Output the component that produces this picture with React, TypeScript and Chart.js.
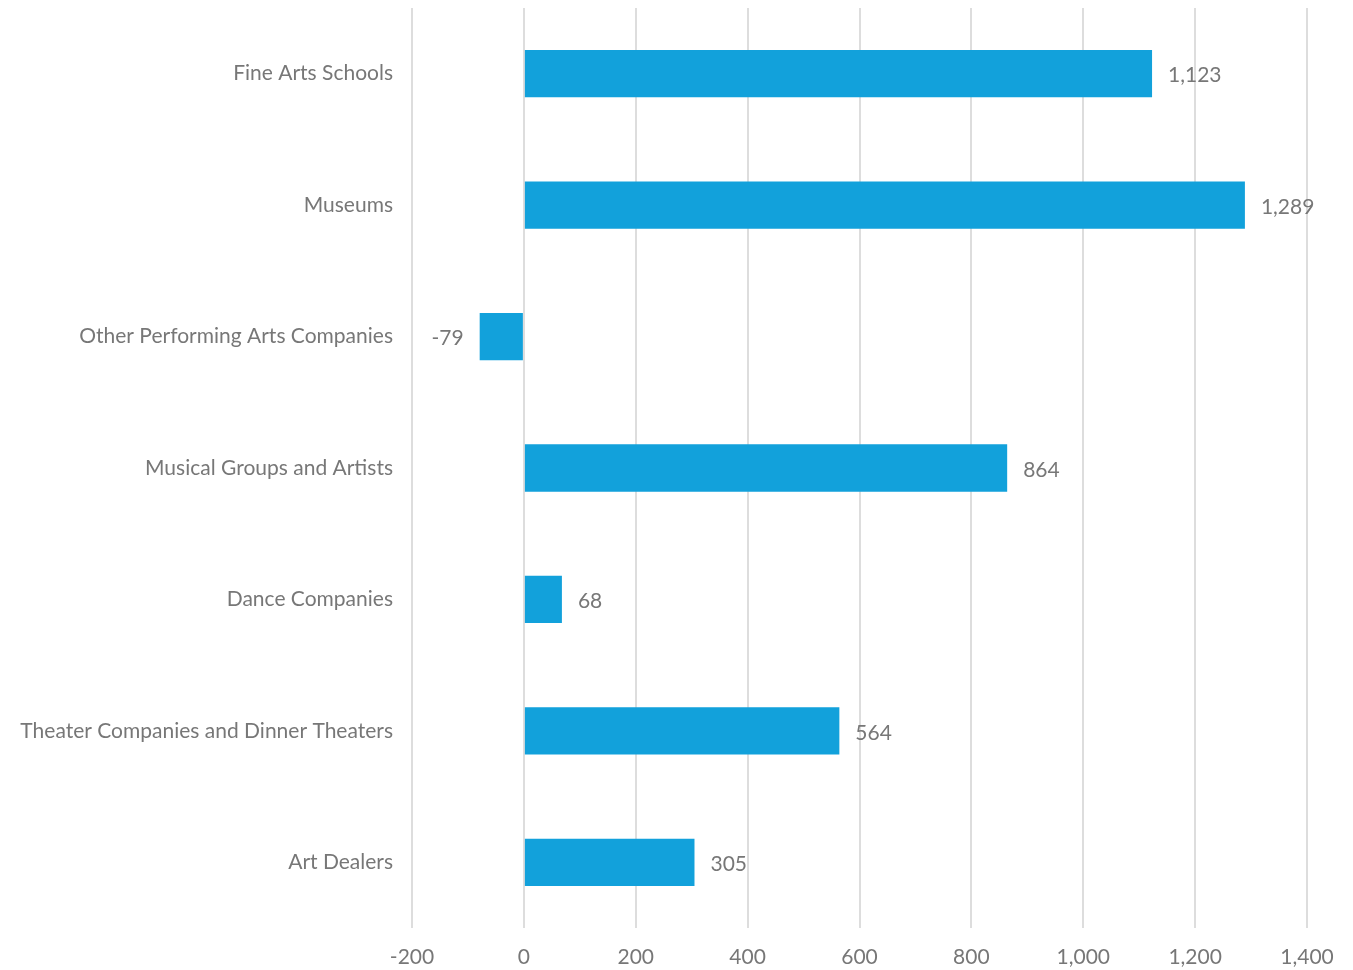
import React, { useEffect, useRef } from "react";
import { Chart, registerables } from "chart.js";

Chart.register(...registerables);

const categories = [
  "Fine Arts Schools",
  "Museums",
  "Other Performing Arts Companies",
  "Musical Groups and Artists",
  "Dance Companies",
  "Theater Companies and Dinner Theaters",
  "Art Dealers",
];
const values = [1123, 1289, -79, 864, 68, 564, 305];
const xMin = -200;
const xMax = 1400;
const xStep = 200;

const FONT = "Lato";
const FSIZE = 21;
const TEXT = "#777777";

const labelPlugin = {
  id: "barLabels",
  afterDatasetsDraw(chart: any) {
    const ctx = chart.ctx;
    const meta = chart.getDatasetMeta(0);
    ctx.save();
    ctx.font = `${FSIZE}px ${FONT}`;
    ctx.fillStyle = TEXT;
    ctx.textBaseline = "middle";
    meta.data.forEach((bar: any, i: number) => {
      const v = values[i];
      const txt = v.toLocaleString("en-US");
      if (v >= 0) {
        ctx.textAlign = "left";
        ctx.fillText(txt, bar.x + 16, bar.y + 2);
      } else {
        ctx.textAlign = "right";
        ctx.fillText(txt, bar.x - 16, bar.y + 2);
      }
    });
    ctx.restore();
  },
};

export default function App() {
  const ref = useRef<HTMLCanvasElement>(null);
  useEffect(() => {
    if (!ref.current) return;
    const chart = new Chart(ref.current, {
      type: "bar",
      data: {
        labels: categories,
        datasets: [
          {
            data: values,
            backgroundColor: "#12a1db",
            barPercentage: 0.36,
            categoryPercentage: 1,
          },
        ],
      },
      options: {
        indexAxis: "y",
        animation: false,
        responsive: false,
        maintainAspectRatio: false,
        layout: { padding: { top: 8, right: 46, left: 0, bottom: 0 } },
        plugins: { legend: { display: false }, tooltip: { enabled: false } },
        scales: {
          x: {
            min: xMin,
            max: xMax,
            ticks: {
              stepSize: xStep,
              color: TEXT,
              font: { family: FONT, size: FSIZE },
              padding: 17,
              callback: (v: any) => Number(v).toLocaleString("en-US"),
            },
            grid: { color: "#dddddd", lineWidth: 2, drawTicks: false },
            border: { display: false },
            afterFit: (s: any) => {
              s.height = 42;
              s.paddingLeft = 0;
              s.paddingRight = 0;
            },
          },
          y: {
            ticks: {
              color: TEXT,
              font: { family: FONT, size: FSIZE },
              padding: 19,
            },
            grid: { display: false, drawTicks: false },
            border: { display: false },
            afterFit: (s: any) => {
              s.width = 412;
              s.paddingTop = 0;
              s.paddingBottom = 0;
            },
          },
        },
      },
      plugins: [labelPlugin],
    });
    return () => chart.destroy();
  }, []);
  return (
    <div style={{ position: "fixed", left: 0, top: 0, width: 1353, height: 970, background: "#fff" }}>
      <canvas ref={ref} width={1353} height={970} style={{ width: 1353, height: 970 }} />
    </div>
  );
}
